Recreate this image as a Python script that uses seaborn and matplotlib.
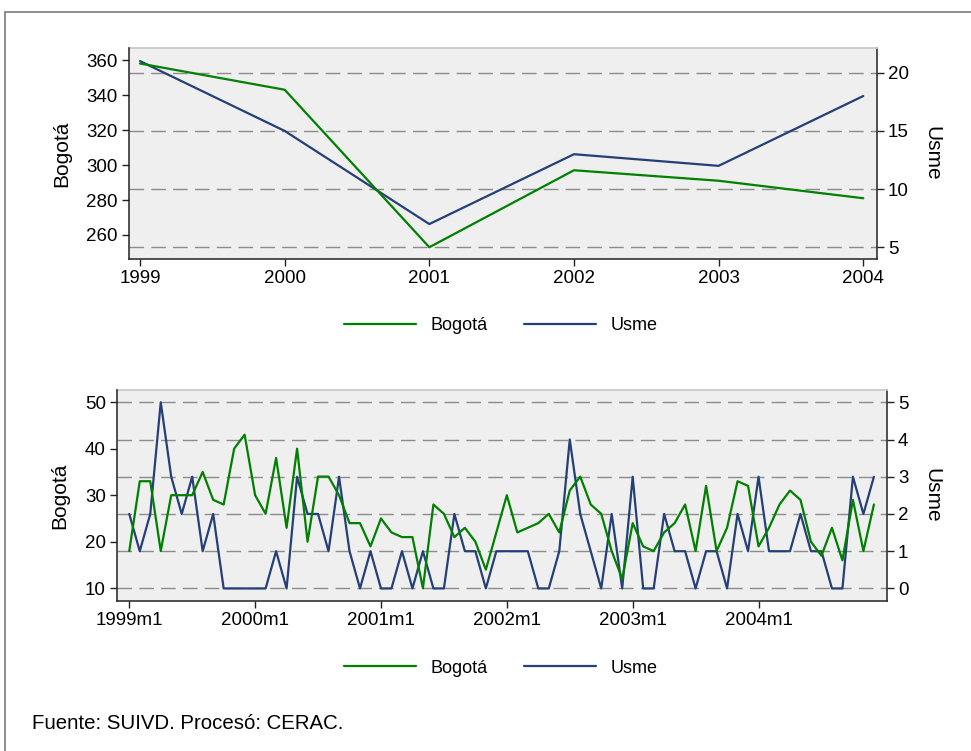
import matplotlib
matplotlib.use("Agg")
import matplotlib.pyplot as plt
import seaborn as sns
import pandas as pd
from matplotlib.patches import Rectangle

# datos anuales
anios = [1999, 2000, 2001, 2002, 2003, 2004]
bogota_anual = [358, 343, 253, 297, 291, 281]
usme_anual = [21, 15, 7, 13, 12, 18]

# datos mensuales (1999m1 - 2004m12)
bogota_mes = [18, 33, 33, 18, 30, 30, 30, 35, 29, 28, 40, 43,
              30, 26, 38, 23, 40, 20, 34, 34, 30, 24, 24, 19,
              25, 22, 21, 21, 10, 28, 26, 21, 23, 20, 14, 22,
              30, 22, 23, 24, 26, 22, 31, 34, 28, 26, 18, 12,
              24, 19, 18, 22, 24, 28, 18, 32, 18, 23, 33, 32,
              19, 23, 28, 31, 29, 20, 17, 23, 16, 29, 18, 28]
usme_mes = [2, 1, 2, 5, 3, 2, 3, 1, 2, 0, 0, 0,
            0, 0, 1, 0, 3, 2, 2, 1, 3, 1, 0, 1,
            0, 0, 1, 0, 1, 0, 0, 2, 1, 1, 0, 1,
            1, 1, 1, 0, 0, 1, 4, 2, 1, 0, 2, 0,
            3, 0, 0, 2, 1, 1, 0, 1, 1, 0, 2, 1,
            3, 1, 1, 1, 2, 1, 1, 0, 0, 3, 2, 3]
etiquetas_mes = ["1999m1", "2000m1", "2001m1", "2002m1", "2003m1", "2004m1"]

verde = "#008000"
azul = "#253f77"
fondo = "#efefef"

sns.set_theme(style="white")
plt.rcParams["font.family"] = ["Liberation Sans", "DejaVu Sans"]
plt.rcParams["text.color"] = "black"
plt.rcParams["axes.labelcolor"] = "black"
plt.rcParams["xtick.color"] = "black"
plt.rcParams["ytick.color"] = "black"

anual = pd.DataFrame({"anio": anios, "Bogotá": bogota_anual, "Usme": usme_anual})
mensual = pd.DataFrame({"mes": range(len(bogota_mes)), "Bogotá": bogota_mes, "Usme": usme_mes})

fig = plt.figure(figsize=(9.71, 7.51), dpi=100)
ax_a = fig.add_axes([0.1329, 0.6547, 0.7700, 0.2810])
ax_m = fig.add_axes([0.1205, 0.2001, 0.7930, 0.2806])


def panel(ax, df, xcol, ylim_b, yticks_b, ylim_u, yticks_u):
    ax2 = ax.twinx()
    sns.lineplot(data=df, x=xcol, y="Usme", ax=ax2, color=azul, lw=1.6)
    sns.lineplot(data=df, x=xcol, y="Bogotá", ax=ax, color=verde, lw=1.6)
    ax.set_zorder(2)
    ax2.set_zorder(1)
    ax.patch.set_visible(False)
    ax2.patch.set_visible(True)
    ax2.set_facecolor(fondo)

    ax.set_ylim(*ylim_b)
    ax.set_yticks(yticks_b)
    ax2.set_ylim(*ylim_u)
    ax2.set_yticks(yticks_u)

    ax2.yaxis.grid(True, color="#8c8c8c", linestyle=(0, (10.5, 5.2)), lw=1.0)
    ax2.set_axisbelow(True)

    for s in ["top", "right"]:
        ax.spines[s].set_visible(False)
    for s in ["left", "bottom"]:
        ax.spines[s].set_color("#222222")
        ax.spines[s].set_linewidth(1.1)
    for s in ["left", "bottom"]:
        ax2.spines[s].set_visible(False)
    ax2.spines["top"].set_color("#c8c8c8")
    ax2.spines["right"].set_color("#222222")
    ax2.spines["right"].set_linewidth(1.1)

    for a in (ax, ax2):
        a.tick_params(axis="both", direction="out", length=5, width=1, color="#222222",
                      labelsize=13.5, pad=3, left=(a is ax), bottom=(a is ax), right=(a is ax2))
    ax.set_xlabel("")
    ax.set_ylabel("Bogotá", fontsize=15, labelpad=11)
    ax2.set_ylabel("Usme", fontsize=15, rotation=270, va="bottom", labelpad=10)
    return ax2


panel(ax_a, anual, "anio", (246.1, 366.7), [260, 280, 300, 320, 340, 360],
      (3.97, 22.1), [5, 10, 15, 20])
ax_a.set_xlim(1998.924, 2004.093)
ax_a.set_xticks(anios)
ax_a.set_xticklabels([str(a) for a in anios])

panel(ax_m, mensual, "mes", (7.33, 52.6), [10, 20, 30, 40, 50],
      (-0.33, 5.33), [0, 1, 2, 3, 4, 5])
ax_m.set_xlim(-1.17, 72.25)
ax_m.set_xticks(range(0, 72, 12))
ax_m.set_xticklabels(etiquetas_mes)

# leyendas
for ax, ycen in ((ax_a, 0.566), (ax_m, 0.1105)):
    h_b = ax.lines[-1]
    h_u = [a for a in fig.axes if a is not ax and a.get_shared_x_axes().joined(a, ax)][0].lines[-1]
    fig.legend([h_b, h_u], ["Bogotá", "Usme"], loc="center", bbox_to_anchor=(0.516, ycen),
               ncol=2, frameon=False, handlelength=4.0, handletextpad=0.8,
               columnspacing=2.0, fontsize=13)

fig.text(0.033, 0.024, "Fuente: SUIVD. Procesó: CERAC.", fontsize=14.7, va="bottom", ha="left")

# marco exterior
fig.patches.append(Rectangle((0.0052, -0.1), 1.2, 0.1 + 0.984, transform=fig.transFigure,
                             fill=False, edgecolor="#7a7a7a", lw=1.2))

fig.savefig("out.png", dpi=100)
